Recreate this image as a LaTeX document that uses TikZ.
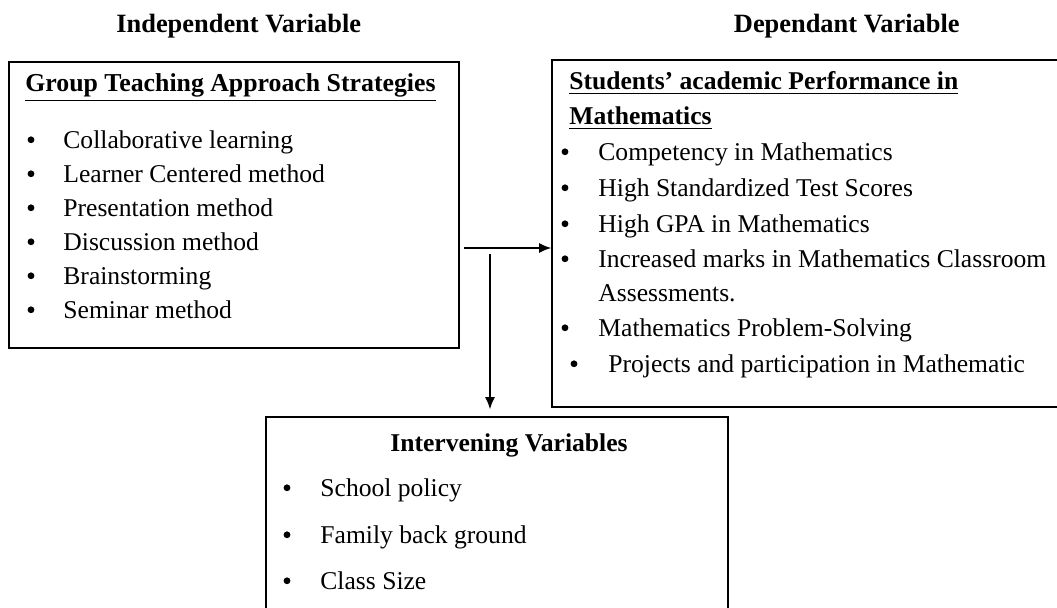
\documentclass[tikz,border=0pt]{standalone}
\usepackage{fontspec}
\setmainfont{Liberation Serif}
\usetikzlibrary{arrows.meta}
\usetikzlibrary{fit}

\tikzset{
  box/.style={draw=black, line width=0.8pt, inner sep=0pt},
  lbl/.style={anchor=base west, inner sep=0pt},
  dot/.style={circle, fill=black, inner sep=0pt, minimum size=3.4pt, yshift=4.6pt},
  arr/.style={line width=0.7pt, -{Latex[length=6pt, width=5pt]}},
  head/.style={inner sep=0pt, font=\fontsize{13.2}{16}\selectfont\bfseries},
}

\begin{document}
\begin{tikzpicture}[x=0.5pt, y=-0.5pt, font=\fontsize{12.8}{15}\selectfont]
    \useasboundingbox (0,0) rectangle (1057,608);

    % column headings
    \node[head, anchor=base west] (indephead) at (116,33) {Independent Variable};
    \node[head, anchor=base east] (dephead) at (960,33) {Dependant Variable};

    % the three frames
    \node[box, fit={(9,62) (459,348)}] (indep) {};
    \node[box, fit={(552,60) (1064,407)}] (dep) {};
    \node[box, fit={(266,417) (728,614)}] (interv) {};

    % independent variable
    \node[lbl, font=\fontsize{12.9}{15}\selectfont\bfseries] (indeptitle) at (25,92)
    {\underline{Group Teaching Approach Strategies}};
    \foreach \txt [count=\i] in {Collaborative learning, Learner Centered method,
      Presentation method, Discussion method, Brainstorming, Seminar method}{
      \node[dot] (sdot\i) at (31,{149+34*(\i-1)}) {};
      \node[lbl] (strat\i) at (63,{149+34*(\i-1)}) {\txt};
    }

    % dependent variable
    \node[lbl, font=\fontsize{12.8}{15}\selectfont\bfseries] (deptitle) at (569,90)
    {\underline{Students’ academic Performance in}};
    \node[lbl, font=\fontsize{12.8}{15}\selectfont\bfseries] (deptitleb) at (569,125)
    {\underline{Mathematics}};
    \foreach \y/\txt [count=\i] in {161/Competency in Mathematics,
      197/High Standardized Test Scores, 233/High GPA in Mathematics,
      268/Increased marks in Mathematics Classroom,
      337/Mathematics Problem-Solving}{
      \node[dot] (pdot\i) at (565,\y) {};
      \node[lbl] (perf\i) at (598,\y) {\txt};
    }
    \node[lbl] (perfb) at (598,302) {Assessments.};
    \node[dot] (pdot6) at (574,373) {};
    \node[lbl] (perf6) at (608,373) {Projects and participation in Mathematic};

    % intervening variables
    \node[anchor=base, inner sep=0pt, font=\fontsize{12.8}{15}\selectfont\bfseries]
    (intervtitle) at (509,452) {Intervening Variables};
    \foreach \y/\txt [count=\i] in {497/School policy, 544/Family back ground,
      590/Class Size}{
      \node[dot] (idot\i) at (287,\y) {};
      \node[lbl] (ivar\i) at (320,\y) {\txt};
    }

    % connectors
    \coordinate (fork) at (464,248);
    \coordinate (drop) at (490,254);
    \draw[arr] (fork) -- (fork -| dep.west);
    \draw[arr] (drop) -- ([yshift=3.5pt]drop |- interv.north);
\end{tikzpicture}
\end{document}
